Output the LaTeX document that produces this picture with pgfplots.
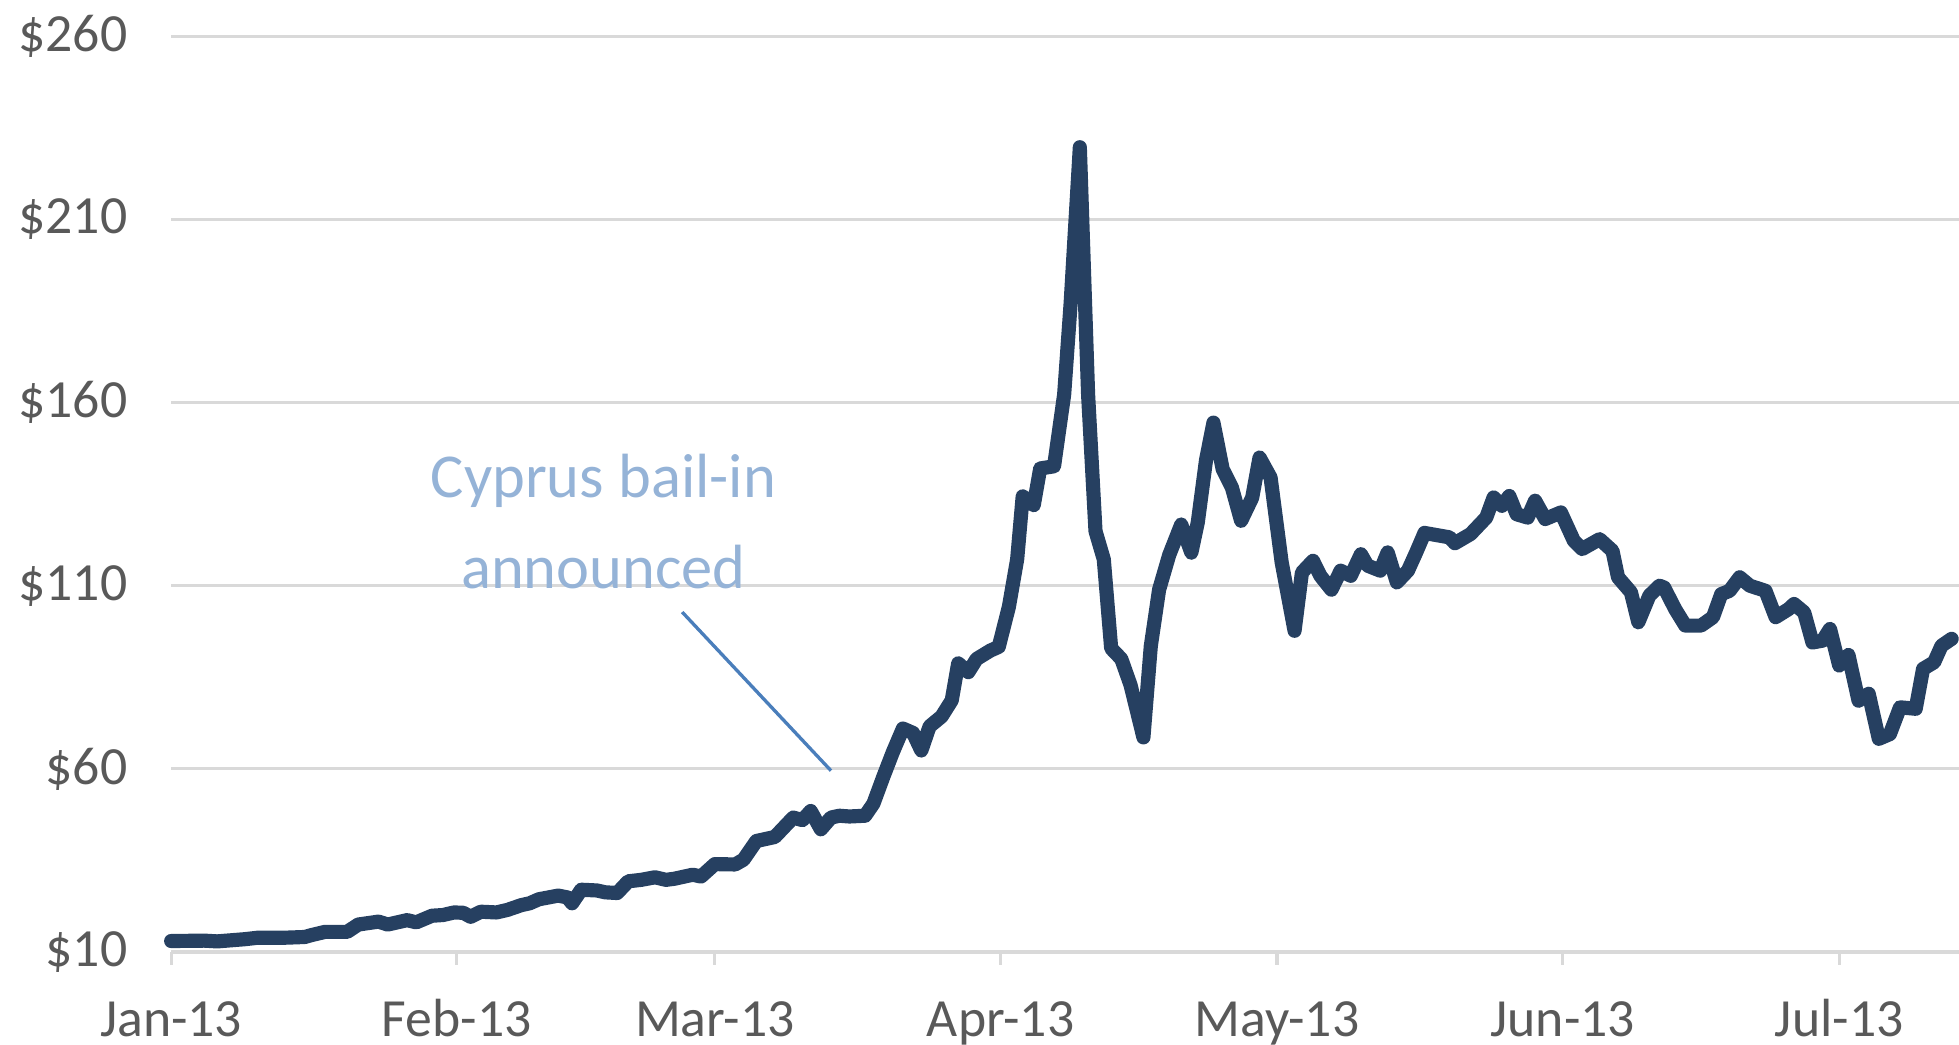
\documentclass[border=0pt]{standalone}
\usepackage{pgfplots}
\pgfplotsset{compat=1.18}
\usepackage{fontspec}
\setmainfont{Carlito}
\definecolor{gridgray}{HTML}{D9D9D9}
\definecolor{txtgray}{HTML}{595959}
\definecolor{navy}{HTML}{264061}
\definecolor{annot}{HTML}{95B3D7}
\definecolor{annotline}{HTML}{4A7EBB}
\begin{document}
\begin{tikzpicture}
\begin{axis}[
  scale only axis,
  width=429.3pt, height=219.9pt,
  xmin=0, xmax=194, ymin=10, ymax=260,
  clip=false,
  axis x line*=bottom,
  axis y line*=left,
  x axis line style={-, color=gridgray, line width=0.75pt},
  y axis line style={draw=none},
  xtick={0,31,59,90,120,151,181},
  xticklabels={Jan-13,Feb-13,Mar-13,Apr-13,May-13,Jun-13,Jul-13},
  ytick={10,60,110,160,210,260},
  yticklabels={\$10,\$60,\$110,\$160,\$210,\$260},
  xtick align=outside,
  major tick length=3pt,
  xtick style={color=gridgray, line width=0.75pt},
  ytick style={draw=none},
  ymajorgrids,
  grid style={color=gridgray, line width=0.75pt},
  ticklabel style={font=\fontsize{12.9}{15}\selectfont, text=txtgray},
  yticklabel style={anchor=east, xshift=-7pt},
  xticklabel style={anchor=north, text height=8.2pt, text depth=2.5pt, yshift=-5.5pt},
]
\addplot[color=navy, line width=3.4pt, line join=round, line cap=round] coordinates {
(0,13.0)(3.6,13.1)(5,12.9)(8,13.5)(9.4,13.9)(12.3,13.9)(14.5,14.1)(15.2,14.6)
(16.7,15.5)(19.1,15.5)(20.3,17.5)(22.5,18.3)(23.5,17.5)(25.6,18.7)(26.6,18.1)
(28.3,19.9)(29.5,20.1)(30.7,20.8)(31.7,20.7)(32.5,19.6)(33.6,21.0)(35.3,20.8)
(36.5,21.5)(38,22.8)(38.9,23.3)(39.9,24.4)(42,25.4)(43,24.9)(43.5,23.3)
(44.5,27.0)(46.2,26.8)(47.1,26.3)(48.4,26.1)(49.6,29.3)(51,29.7)(52.5,30.4)
(53.7,29.7)(54.6,30.0)(56.6,31.1)(57.5,30.6)(59,34.0)(61.2,33.9)(62.1,35.2)
(63.5,40.3)(65.5,41.4)(67.5,46.7)(68.5,46.0)(69.4,48.5)(70.5,43.5)(71.6,46.7)
(72.5,47.2)(73.6,47.0)(75.3,47.2)(76.2,50.5)(77.3,58)(78.3,64.5)(79.4,71)
(80.5,69.8)(81.4,65)(82.3,71.6)(83.6,74.3)(84.7,78.7)(85.4,88.8)(86.5,86.4)
(87.4,90)(88.9,92.3)(89.8,93.3)(90.9,104.2)(91.8,117.2)(92.4,134.4)(93.6,132)
(94.3,142)(95.8,142.6)(96.9,162.2)(97.6,187)(98.6,229.7)(99.5,162)(100.3,124.9)
(101.2,117.2)(102,92.9)(103.1,90)(104.1,82.9)(105.5,68.6)(106.3,93.5)(107.2,108.9)
(108.3,118.4)(109.6,126.7)(110.7,119)(111.4,127.3)(112.3,144.4)(113.1,154.5)
(114.1,141.8)(115.1,136.8)(116.1,127.7)(117.3,134)(118.1,145)(119.3,139.5)
(120.5,116.4)(121.9,97.7)(122.7,113.6)(123.9,116.8)(124.7,112.7)(125.9,108.9)
(126.9,114.1)(128,112.7)(129.1,118.6)(129.8,115.5)(131.2,114.1)(132,119.1)
(133,110.9)(134.2,114.1)(135.1,119.1)(136,124.4)(138.7,123.2)(139.3,121.6)
(141,124.1)(142.7,128.6)(143.5,134.1)(144.4,131.8)(145.2,134.5)(146,129.5)
(147.2,128.6)(148,133.2)(149.1,128.2)(150.8,130)(152.2,122.3)(153.1,120)
(155,122.7)(156.4,119.5)(157,112.3)(158.4,108.2)(159.2,100)(160.4,107.3)
(161.5,110)(162,109.5)(163.2,103.6)(164.3,99.1)(166,99.1)(167.3,101.4)
(168.2,107.7)(169.1,108.6)(170.2,112.3)(171.3,110)(173,108.6)(174.1,101.4)
(175.5,103.6)(176.1,105)(177.2,102.7)(178.1,94.5)(179.2,95)(180,98.2)
(181,88.2)(182,91.1)(183.1,78.6)(184.2,80.5)(185.3,68.2)(186.5,69.5)
(187.6,76.8)(189.3,76.4)(190.1,87.3)(191.3,89.1)(192.1,93.6)(193.2,95.5)
};
\draw[annotline, line width=0.8pt] (axis cs:55.45,102.8) -- (axis cs:71.6,59.5);
\node[align=center, text=annot, font=\fontsize{15}{21.9}\selectfont] at (axis cs:46.9,127.5) {Cyprus bail-in\\announced};
\end{axis}
\pgfresetboundingbox
\useasboundingbox (-41.1pt,-22.2pt) rectangle (429.3pt,228.6pt);
\end{tikzpicture}
\end{document}
